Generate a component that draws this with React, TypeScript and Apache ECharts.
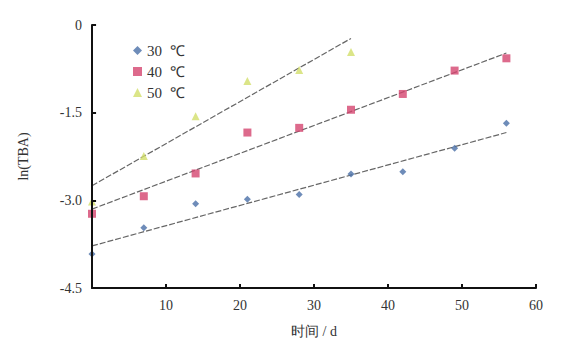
import React, { useEffect, useRef } from "react";
import * as echarts from "echarts";

const days = [0, 7, 14, 21, 28, 35, 42, 49, 56];
const days50 = [0, 7, 14, 21, 28, 35];
const lnTBA30 = [-3.92, -3.47, -3.06, -2.98, -2.9, -2.55, -2.51, -2.11, -1.68];
const lnTBA40 = [-3.23, -2.93, -2.54, -1.84, -1.76, -1.45, -1.18, -0.78, -0.57];
const lnTBA50 = [-3.02, -2.24, -1.56, -0.96, -0.77, -0.46];
const fit30 = [[0, -3.78], [56, -1.84]];
const fit40 = [[0, -3.15], [56, -0.48]];
const fit50 = [[0, -2.75], [35, -0.23]];
const seriesNames = ["30  ℃", "40  ℃", "50  ℃"];
const yTicks = { min: -4.5, max: 0, interval: 1.5 };
const xTicks = { min: 0, max: 60, interval: 10 };
const xTickValues = [10, 20, 30, 40, 50, 60];
const yTickValues = [-3, -1.5, 0];

const FONT = "Liberation Serif";

export default function App() {
  const ref = useRef<HTMLDivElement>(null);
  useEffect(() => {
    if (!ref.current) return;
    const chart = echarts.init(ref.current, null, { renderer: "svg" });
    const fitStyle = { color: "#666", width: 1.2, type: [6, 2] as any };
    const axisLineStyle = { color: "#111", width: 2, type: "solid" as const };
    const tickLen = 0.07;
    const tickLenX = 0.55;
    const axisSegments: any[] = [
      [{ coord: [xTicks.min, yTicks.min] }, { coord: [xTicks.max, yTicks.min] }],
      [{ coord: [xTicks.min, yTicks.min] }, { coord: [xTicks.min, yTicks.max] }],
      ...xTickValues.map((v) => [{ coord: [v, yTicks.min] }, { coord: [v, yTicks.min + tickLen] }]),
      ...yTickValues.map((v) => [{ coord: [xTicks.min, v] }, { coord: [xTicks.min + tickLenX, v] }]),
    ];
    chart.setOption({
      animation: false,
      grid: { left: 81, right: 40, top: 17, bottom: 55 },
      legend: {
        orient: "vertical",
        left: 120,
        top: 30,
        itemGap: 6,
        itemWidth: 9,
        itemHeight: 9,
        textStyle: { fontFamily: FONT, fontSize: 15, color: "#333" },
        data: [
          { name: seriesNames[0], icon: "diamond" },
          { name: seriesNames[1], icon: "rect" },
          { name: seriesNames[2], icon: "triangle" },
        ],
      },
      xAxis: {
        type: "value",
        min: xTicks.min,
        max: xTicks.max,
        interval: xTicks.interval,
        name: "时间 / d",
        nameLocation: "middle",
        nameGap: 36,
        nameTextStyle: { fontFamily: FONT, fontSize: 14, color: "#333" },
        axisLine: { show: true, onZero: false, lineStyle: { color: "#111", width: 2 } },
        axisTick: { show: false },
        axisLabel: {
          fontFamily: FONT,
          fontSize: 14,
          color: "#333",
          margin: 10,
          formatter: (v: number) => (v === 0 ? "" : String(v)),
        },
        splitLine: { show: false },
      },
      yAxis: {
        type: "value",
        min: yTicks.min,
        max: yTicks.max,
        interval: yTicks.interval,
        name: "ln(TBA)",
        nameLocation: "middle",
        nameGap: 62,
        nameRotate: 90,
        nameTextStyle: { fontFamily: FONT, fontSize: 14, color: "#333" },
        axisLine: { show: true, onZero: false, lineStyle: { color: "#111", width: 2 } },
        axisTick: { show: false },
        axisLabel: {
          fontFamily: FONT,
          fontSize: 14,
          color: "#333",
          margin: 10,
          formatter: (v: number) => (v === 0 ? "0" : v.toFixed(1)),
        },
        splitLine: { show: false },
      },
      series: [
        {
          type: "line",
          data: fit30,
          showSymbol: false,
          lineStyle: fitStyle,
          silent: true,
          z: 1,
          markLine: {
            silent: true,
            symbol: ["none", "none"],
            label: { show: false },
            lineStyle: axisLineStyle,
            data: axisSegments,
            animation: false,
          },
        },
        { type: "line", data: fit40, showSymbol: false, lineStyle: fitStyle, silent: true, z: 1 },
        { type: "line", data: fit50, showSymbol: false, lineStyle: fitStyle, silent: true, z: 1 },
        {
          name: seriesNames[0],
          type: "scatter",
          symbol: "diamond",
          symbolSize: 7,
          itemStyle: { color: "#4a6fa8" },
          data: days.map((d, i) => [d, lnTBA30[i]]),
          z: 3,
        },
        {
          name: seriesNames[1],
          type: "scatter",
          symbol: "rect",
          symbolSize: 8,
          itemStyle: { color: "#d4456f" },
          data: days.map((d, i) => [d, lnTBA40[i]]),
          z: 3,
        },
        {
          name: seriesNames[2],
          type: "scatter",
          symbol: "triangle",
          symbolSize: 8,
          itemStyle: { color: "#d2df6a" },
          data: days50.map((d, i) => [d, lnTBA50[i]]),
          z: 3,
        },
      ],
    });
    return () => chart.dispose();
  }, []);
  return <div ref={ref} style={{ width: 568, height: 335 }} />;
}
